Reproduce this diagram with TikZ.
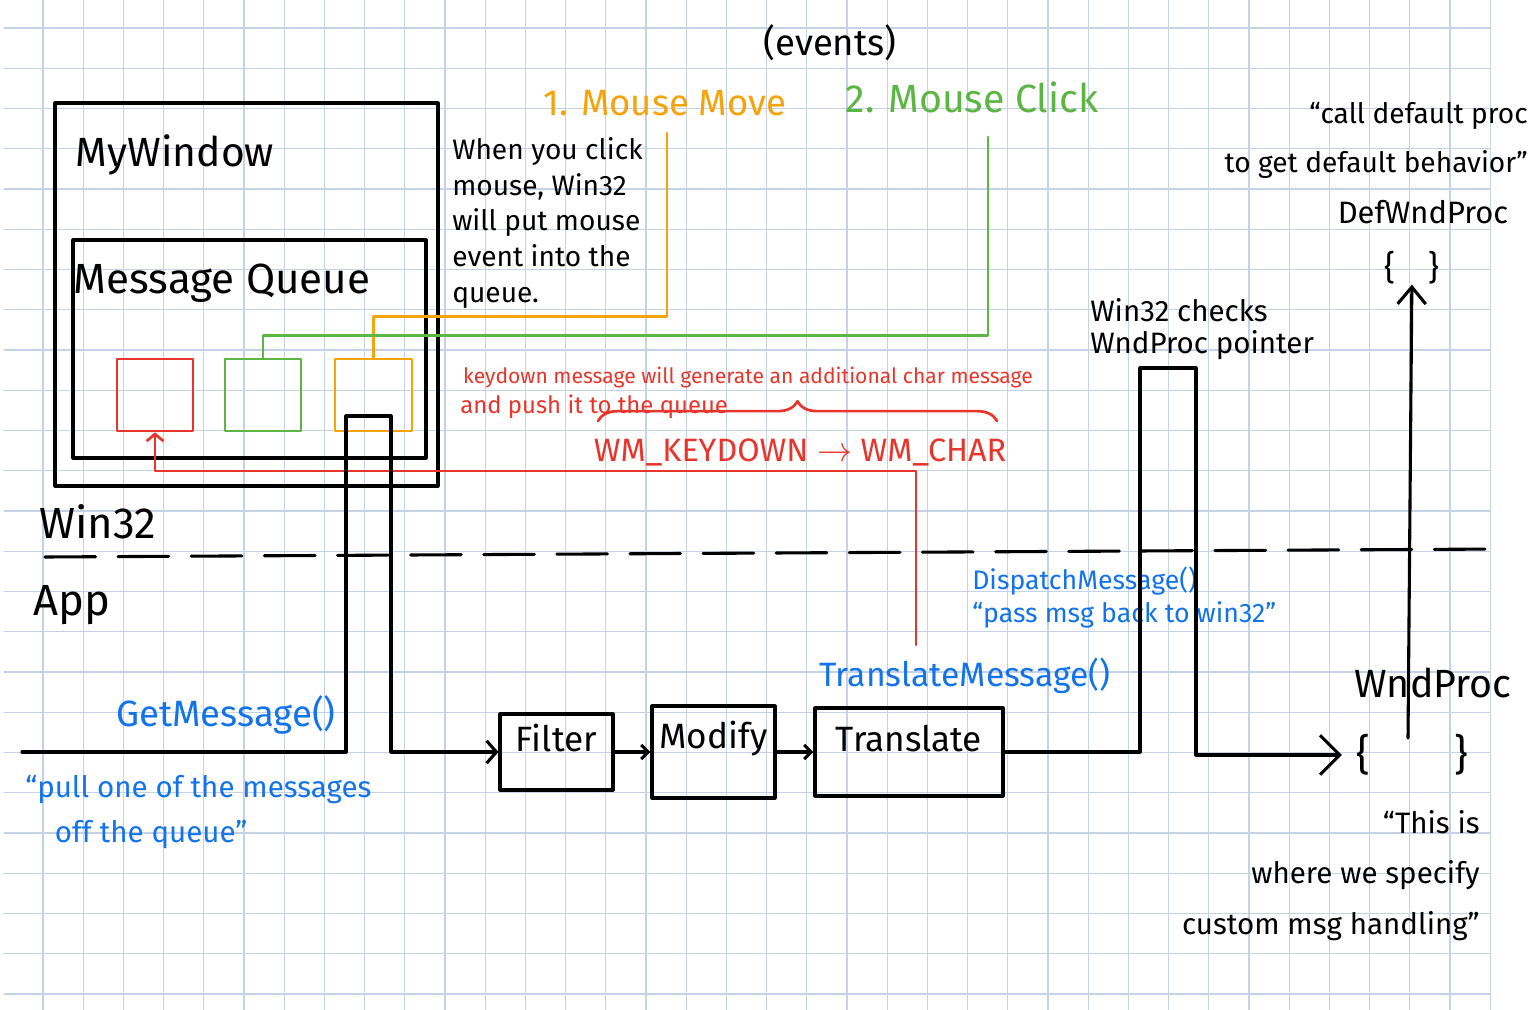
\documentclass[tikz,border=0pt]{standalone}
\usepackage{fontspec}
\setmainfont{Fira Sans}
\usetikzlibrary{arrows.meta,positioning,fit,calc,decorations.pathreplacing}
\definecolor{gridblue}{HTML}{C5D1E6}
\definecolor{penorange}{HTML}{F5A30A}
\definecolor{pengreen}{HTML}{5DB544}
\definecolor{penred}{HTML}{E8352B}
\definecolor{penblue}{HTML}{1273EB}
\newcommand{\hand}[2]{\fontsize{#1}{#2}\selectfont}

\begin{document}
\begin{tikzpicture}[x=0.025cm,y=-0.025cm,line cap=round,line join=round,
  gridline/.style={gridblue,line width=0.8pt},
  ink/.style={line width=2.2pt},
  pen/.style={line width=1.9pt},
  box node/.style={draw,ink,inner sep=0pt},
  msg node/.style={draw,pen,inner sep=0pt},
  step node/.style={draw,ink,inner sep=0pt,font=\hand{25}{28}},
  txt/.style={inner sep=0pt}]
\fill[white] (0,0) rectangle (1533,1010);
\useasboundingbox (0,0) rectangle (1533,1010);
\foreach \i in {0,...,36} \draw[gridline] ({43+40.2*\i},0) -- ({43+40.2*\i},1010);
\foreach \j in {0,...,24} \draw[gridline] (4,{28+40.25*\j}) -- (1490,{28+40.25*\j});

% win32 side
\node[txt,font=\hand{26}{30}] (events) at (830,43) {(events)};
\node[txt,font=\hand{26}{30},text=penorange] (movelbl) at (665,103) {1. Mouse Move};
\node[txt,font=\hand{28}{32},text=pengreen] (clicklbl) at (972,97) {2. Mouse Click};
\node[box node,fit={(55,103) (438,486)}] (win) {};
\node[txt,font=\hand{29}{34}] (wintitle) at (175,155) {MyWindow};
\node[box node,fit={(73,240) (426,458)}] (queue) {};
\node[txt,font=\hand{30}{34}] (queuetitle) at (222,283) {Message Queue};
\node[msg node,draw=penred,fit={(117,359) (193,431)}] (mred) {};
\node[msg node,draw=pengreen,fit={(225,359) (301,431)}] (mgreen) {};
\node[msg node,draw=penorange,fit={(335,359) (412,431)}] (morange) {};
\node[txt,font=\hand{20}{25.5},align=left,anchor=north west] (clicknote) at (452,137) {When you click\\mouse, Win32\\will put mouse\\event into the\\queue.};

\coordinate (moveend) at (667,133);
\coordinate (clickend) at (988,137);
\draw[pen,penorange] (morange.north) -- ++(0,-41) -| (moveend);
\draw[pen,pengreen] (mgreen.north) -- ++(0,-22) -| (clickend);

\node[txt,font=\hand{15}{18},text=penred] (keynote) at (748,378) {keydown message will generate an additional char message};
\node[txt,font=\hand{17}{20},text=penred,anchor=west] (pushnote) at (460,407) {and push it to the queue};
\coordinate (bracel) at (598,421);
\coordinate (bracer) at (997,421);
\draw[pen,penred,decorate,decoration={brace,amplitude=14pt}] (bracel) -- (bracer);
\node[txt,font=\hand{23}{26},text=penred] (keymap) at (800,452) {WM\_KEYDOWN $\rightarrow$ WM\_CHAR};
\coordinate (keyfrom) at (916,645);
\draw[pen,penred,-{Straight Barb[length=5pt,width=12pt]}] (keyfrom) -- ++(0,-174) -| (mred.south);

\coordinate (sepl) at (45,557);
\coordinate (sepr) at (1502,549);
\draw[ink,dash pattern=on 36pt off 16pt] (sepl) -- (sepr);
\node[txt,font=\hand{31}{34}] (winlbl) at (98,522) {Win32};
\node[txt,font=\hand{31}{34}] (applbl) at (72,605) {App};

% app side
\node[step node,fit={(500,714) (613,790)}] (filter) {Filter};
\node[step node,fit={(652,706) (775,798)}] (modify) {Modify};
\node[step node,fit={(815,708) (1003,796)}] (translate) {Translate};
\coordinate (getstart) at (22,752);
\coordinate (pulltop) at (346,416);
\draw[ink,-{Straight Barb[length=7pt,width=16pt]}] (getstart) -| (pulltop) -- ++(45,0) |- (filter.west);
\draw[ink,-{Straight Barb[length=5pt,width=10pt]}] (filter) -- (modify);
\draw[ink,-{Straight Barb[length=5pt,width=10pt]}] (modify) -- (translate);
\node[txt,font=\hand{26}{30},text=penblue] (getlbl) at (226,715) {GetMessage()};
\node[txt,font=\hand{21}{32},text=penblue,align=left,anchor=north west] (pullnote) at (25,775) {“pull one of the messages\\\hspace{1em}off the queue”};
\node[txt,font=\hand{24}{28},text=penblue] (translbl) at (965,676) {TranslateMessage()};
\node[txt,font=\hand{19}{23},text=penblue,align=left,anchor=north west] (dispnote) at (972,567) {DispatchMessage()\\“pass msg back to win32”};

\node[txt,font=\hand{30}{34},inner xsep=10pt] (wndproc) at (1412,755) {\{\hspace{2em}\}};
\node[txt,font=\hand{28}{32}] (wndlbl) at (1433,683) {WndProc};
\coordinate (hookl) at (1140,368);
\coordinate (hookr) at (1196,368);
\draw[ink,-{Straight Barb[length=14pt,width=28pt]}] (translate) -| (hookl) -- (hookr) |- (wndproc.west);
\node[txt,font=\hand{21}{23},align=left,anchor=north west] (checknote) at (1090,298) {Win32 checks\\WndProc pointer};

\node[txt,font=\hand{24}{28}] (defproc) at (1412,268) {\{\hspace{1em}\}};
\node[txt,font=\hand{22}{26}] (deflbl) at (1423,212) {DefWndProc};
\node[txt,font=\hand{20}{35},align=right,anchor=north east] (defnote) at (1528,102) {“call default proc\\to get default behavior”};
\coordinate (calldef) at (1408,738);
\draw[ink,-{Straight Barb[length=12pt,width=20pt]}] (calldef) -- (defproc);
\node[txt,font=\hand{21}{36},align=right,anchor=north east] (customnote) at (1480,810) {“This is\\where we specify\\custom msg handling”};
\end{tikzpicture}
\end{document}
